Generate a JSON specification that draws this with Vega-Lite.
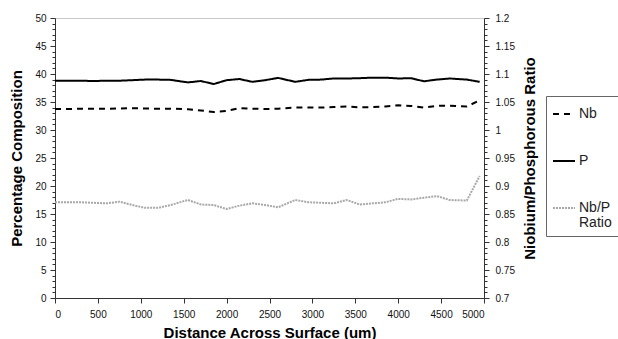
{
  "$schema": "https://vega.github.io/schema/vega-lite/v6.json",
  "width": 429,
  "height": 280,
  "autosize": {"type": "none"},
  "padding": {"left": 55, "top": 18, "right": 134, "bottom": 41},
  "config": {
    "font": "Liberation Sans",
    "view": {"stroke": "#c8c8c8"},
    "style": {"guide-label": {"lineHeight": 15}},
    "axis": {
      "grid": false,
      "domainColor": "#333",
      "tickColor": "#333",
      "labelColor": "#111",
      "titleColor": "#000",
      "labelFont": "Liberation Sans",
      "titleFont": "Liberation Sans",
      "titleFontWeight": "bold"
    },
    "legend": {
      "orient": "none",
      "legendX": 491,
      "legendY": 78,
      "strokeColor": "#666",
      "fillColor": "#fff",
      "padding": 6,
      "rowPadding": 28,
      "symbolType": "stroke",
      "symbolSize": 484,
      "symbolStrokeWidth": 2,
      "labelFontSize": 14,
      "labelFont": "Liberation Sans",
      "labelColor": "#222",
      "labelOffset": 3,
      "labelLimit": 200
    }
  },
  "data": {
    "values": [
      {"d": 0, "Nb": 33.75, "P": 38.8, "Ratio": 0.871},
      {"d": 150, "Nb": 33.75, "P": 38.8, "Ratio": 0.871},
      {"d": 300, "Nb": 33.8, "P": 38.8, "Ratio": 0.871},
      {"d": 450, "Nb": 33.8, "P": 38.75, "Ratio": 0.870},
      {"d": 600, "Nb": 33.8, "P": 38.8, "Ratio": 0.869},
      {"d": 750, "Nb": 33.85, "P": 38.8, "Ratio": 0.872},
      {"d": 900, "Nb": 33.9, "P": 38.9, "Ratio": 0.866},
      {"d": 1050, "Nb": 33.85, "P": 39.0, "Ratio": 0.861},
      {"d": 1200, "Nb": 33.8, "P": 39.0, "Ratio": 0.861},
      {"d": 1350, "Nb": 33.8, "P": 38.95, "Ratio": 0.866},
      {"d": 1500, "Nb": 33.75, "P": 38.6, "Ratio": 0.873},
      {"d": 1550, "Nb": 33.7, "P": 38.5, "Ratio": 0.875},
      {"d": 1700, "Nb": 33.5, "P": 38.75, "Ratio": 0.867},
      {"d": 1850, "Nb": 33.2, "P": 38.2, "Ratio": 0.866},
      {"d": 2000, "Nb": 33.4, "P": 38.9, "Ratio": 0.859},
      {"d": 2150, "Nb": 33.9, "P": 39.1, "Ratio": 0.865},
      {"d": 2300, "Nb": 33.8, "P": 38.6, "Ratio": 0.869},
      {"d": 2450, "Nb": 33.75, "P": 38.9, "Ratio": 0.866},
      {"d": 2600, "Nb": 33.8, "P": 39.3, "Ratio": 0.862},
      {"d": 2800, "Nb": 34.0, "P": 38.6, "Ratio": 0.875},
      {"d": 2950, "Nb": 34.0, "P": 38.95, "Ratio": 0.871},
      {"d": 3100, "Nb": 34.0, "P": 39.0, "Ratio": 0.870},
      {"d": 3250, "Nb": 34.1, "P": 39.2, "Ratio": 0.869},
      {"d": 3400, "Nb": 34.2, "P": 39.2, "Ratio": 0.875},
      {"d": 3550, "Nb": 34.05, "P": 39.25, "Ratio": 0.867},
      {"d": 3700, "Nb": 34.1, "P": 39.35, "Ratio": 0.869},
      {"d": 3850, "Nb": 34.2, "P": 39.35, "Ratio": 0.871},
      {"d": 4000, "Nb": 34.4, "P": 39.2, "Ratio": 0.877},
      {"d": 4150, "Nb": 34.3, "P": 39.25, "Ratio": 0.876},
      {"d": 4300, "Nb": 34.0, "P": 38.7, "Ratio": 0.879},
      {"d": 4450, "Nb": 34.3, "P": 39.0, "Ratio": 0.882},
      {"d": 4600, "Nb": 34.35, "P": 39.2, "Ratio": 0.875},
      {"d": 4800, "Nb": 34.2, "P": 39.0, "Ratio": 0.874},
      {"d": 4950, "Nb": 35.3, "P": 38.6, "Ratio": 0.918}
    ]
  },
  "layer": [
    {
      "transform": [{"fold": ["Nb", "P"], "as": ["series", "value"]}],
      "mark": {"type": "line", "strokeWidth": 2},
      "encoding": {
        "x": {
          "field": "d",
          "type": "quantitative",
          "scale": {"domain": [0, 5000], "nice": false},
          "axis": {
            "values": [0, 500, 1000, 1500, 2000, 2500, 3000, 3500, 4000, 4500, 5000],
            "format": "d",
            "labelFontSize": 10,
            "labelPadding": 6,
            "tickSize": 5,
            "title": "Distance Across Surface (um)",
            "titleFontSize": 15,
            "titlePadding": 6
          }
        },
        "y": {
          "field": "value",
          "type": "quantitative",
          "scale": {"domain": [0, 50], "nice": false},
          "axis": {
            "values": [0,1,2,3,4,5,6,7,8,9,10,11,12,13,14,15,16,17,18,19,20,21,22,23,24,25,26,27,28,29,30,31,32,33,34,35,36,37,38,39,40,41,42,43,44,45,46,47,48,49,50],
            "format": "d",
            "labelExpr": "datum.value % 5 === 0 ? datum.label : ''",
            "tickSize": {"condition": {"test": "datum.value % 5 === 0", "value": 5}, "value": 3},
            "labelFontSize": 10,
            "labelPadding": 4,
            "title": "Percentage Composition",
            "titleFontSize": 15,
            "titlePadding": 10
          }
        },
        "color": {
          "field": "series",
          "type": "nominal",
          "scale": {"domain": ["Nb", "P", "Ratio"], "range": ["#000000", "#000000", "#a8a8a8"]},
          "legend": {"title": null, "labelExpr": "datum.label == 'Ratio' ? ['Nb/P', 'Ratio'] : datum.label"}
        },
        "strokeDash": {
          "field": "series",
          "type": "nominal",
          "scale": {"domain": ["Nb", "P", "Ratio"], "range": [[6, 5], [1, 0], [2, 1]]},
          "legend": {"title": null, "labelExpr": "datum.label == 'Ratio' ? ['Nb/P', 'Ratio'] : datum.label"}
        }
      }
    },
    {
      "transform": [{"fold": ["Ratio"], "as": ["series", "value"]}],
      "mark": {"type": "line", "strokeWidth": 2},
      "encoding": {
        "x": {"field": "d", "type": "quantitative"},
        "y": {
          "field": "value",
          "type": "quantitative",
          "scale": {"domain": [0.7, 1.2], "nice": false, "zero": false},
          "axis": {
            "orient": "right",
            "values": [0.7,0.71,0.72,0.73,0.74,0.75,0.76,0.77,0.78,0.79,0.8,0.81,0.82,0.83,0.84,0.85,0.86,0.87,0.88,0.89,0.9,0.91,0.92,0.93,0.94,0.95,0.96,0.97,0.98,0.99,1,1.01,1.02,1.03,1.04,1.05,1.06,1.07,1.08,1.09,1.1,1.11,1.12,1.13,1.14,1.15,1.16,1.17,1.18,1.19,1.2],
            "format": "~g",
            "labelExpr": "abs(round(datum.value * 20) - datum.value * 20) < 0.001 ? datum.label : ''",
            "tickSize": {"condition": {"test": "abs(round(datum.value * 20) - datum.value * 20) < 0.001", "value": 5}, "value": 3},
            "labelFontSize": 10,
            "labelPadding": 6,
            "title": "Niobium/Phosphorous Ratio",
            "titleAngle": 270,
            "titleBaseline": "top",
            "titleFontSize": 15,
            "titlePadding": 8
          }
        },
        "color": {
          "field": "series",
          "type": "nominal",
          "scale": {"domain": ["Nb", "P", "Ratio"], "range": ["#000000", "#000000", "#a8a8a8"]},
          "legend": {"title": null, "labelExpr": "datum.label == 'Ratio' ? ['Nb/P', 'Ratio'] : datum.label"}
        },
        "strokeDash": {
          "field": "series",
          "type": "nominal",
          "scale": {"domain": ["Nb", "P", "Ratio"], "range": [[6, 5], [1, 0], [2, 1]]},
          "legend": {"title": null, "labelExpr": "datum.label == 'Ratio' ? ['Nb/P', 'Ratio'] : datum.label"}
        }
      }
    }
  ],
  "resolve": {"scale": {"y": "independent"}}
}
